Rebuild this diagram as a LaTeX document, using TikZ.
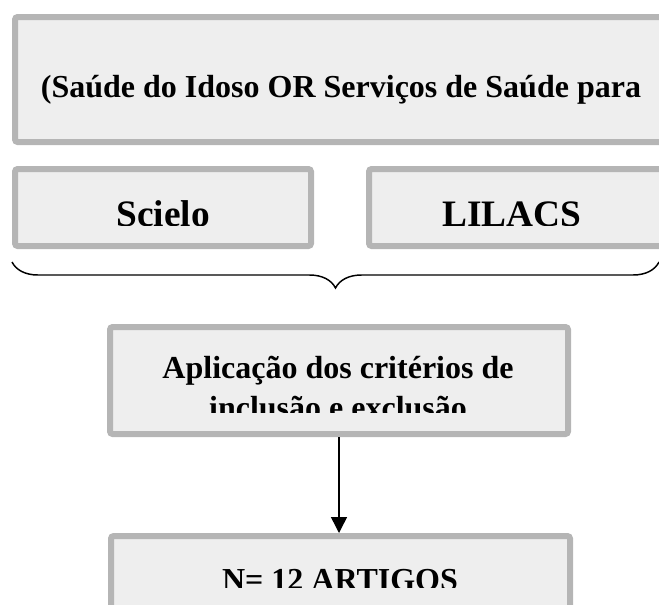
\documentclass[tikz,border=0pt]{standalone}
\usepackage{fontspec}
\setmainfont{Liberation Serif}
\usetikzlibrary{arrows.meta,decorations.pathreplacing}
\definecolor{boxgray}{RGB}{181,181,181}
\definecolor{boxfill}{RGB}{238,238,238}
\tikzset{
    box/.style={
        rectangle,
        draw=boxgray,
        line width=4.5pt,
        fill=boxfill,
        rounded corners=2pt,
        inner sep=0pt
    },
    boxtext/.style={
        font=\bfseries\fontsize{24}{29}\selectfont,
        inner sep=0pt,
        anchor=base
    },
    bigtext/.style={
        boxtext,
        font=\bfseries\fontsize{28}{34}\selectfont
    }
}
\begin{document}
\begin{tikzpicture}[x=0.75pt, y=-0.75pt]
    \useasboundingbox (0, 0) rectangle (659, 604);
    \clip (0, 0) rectangle (659, 604);

    \node[box, minimum width=489pt, minimum height=93.75pt] (busca) at (341, 79.5) {};
    \node[box, minimum width=222pt, minimum height=57.75pt] (scielo) at (163, 207.5) {};
    \node[box, minimum width=225pt, minimum height=57.75pt] (lilacs) at (519, 207.5) {};
    \node[box, minimum width=343.5pt, minimum height=80.25pt] (criterios) at (339, 380.5) {};
    \node[box, minimum width=344.25pt, minimum height=75pt] (artigos) at (340.5, 586) {};

    \node[boxtext] (buscatxt) at (341, 97) {(Saúde do Idoso OR Serviços de Saúde para};
    \begin{scope}
        \clip (0, 160) rectangle (659, 225);
        \node[bigtext] (scielotxt) at (163, 226) {Scielo};
        \node[bigtext] (lilacstxt) at (512, 226) {LILACS};
    \end{scope}
    \begin{scope}
        \clip (0, 330) rectangle (659, 412);
        \node[boxtext] (criteriostxt) at (338, 378) {Aplicação dos critérios de};
        \node[boxtext] (criteriostxtb) at (338, 418) {inclusão e exclusão};
    \end{scope}
    \begin{scope}
        \clip (0, 540) rectangle (659, 587);
        \node[boxtext] (artigostxt) at (340, 590) {N= 12 ARTIGOS};
    \end{scope}

    \coordinate (bracel) at (12, 262);
    \coordinate (bracer) at (659, 262);
    \draw[line width=1.1pt, decorate, decoration={brace, mirror, amplitude=19.5pt}] (bracel) -- (bracer);

    \draw[-{Triangle[length=12pt, width=12pt]}, line width=1.1pt] (criterios.south) -- (criterios.south |- artigos.north);

\end{tikzpicture}
\end{document}
